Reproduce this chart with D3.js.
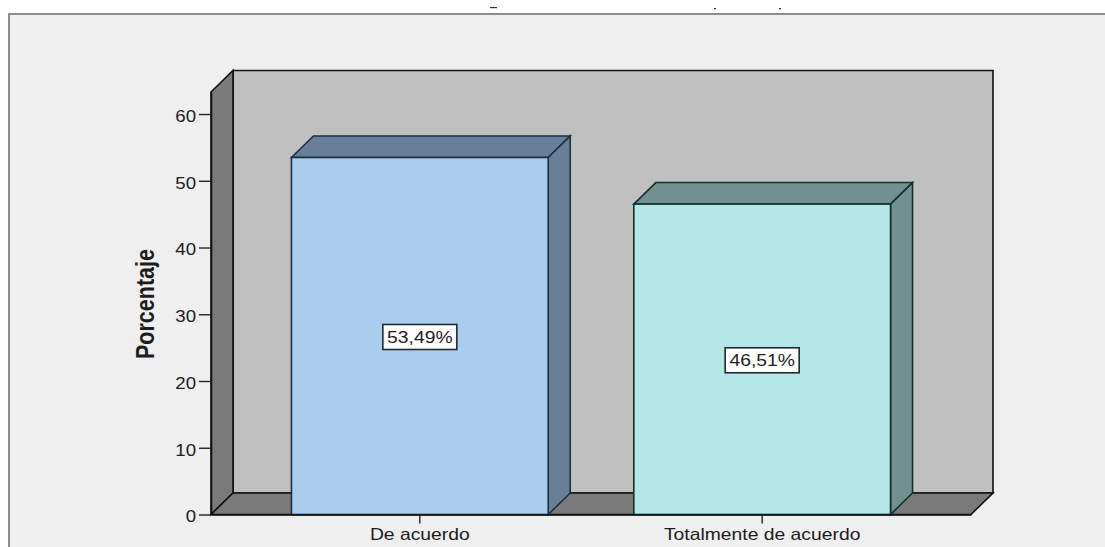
<!DOCTYPE html>
<html>
<head>
<meta charset="utf-8">
<script src="https://cdn.jsdelivr.net/npm/d3@7"></script>
<style>
    html, body { margin: 0; padding: 0; background: #fff; overflow: hidden; }
    svg { display: block; }
    text { font-family: "Liberation Sans", Arial, sans-serif; fill: #1c1c1c; }
</style>
</head>
<body>
<div id="chart"></div>
<script>
    var categories = ["De acuerdo", "Totalmente de acuerdo"];
    var percents = [53.49, 46.51];
    var valueLabels = ["53,49%", "46,51%"];
    var yTicks = [0, 10, 20, 30, 40, 50, 60];
    var yMax = 63.3;
    var fronts = ["#aacdee", "#b3e6e6"];
    var sides = ["#687f97", "#72908f"];
    var edges = ["#1b3048", "#12302f"];

    var width = 1105, height = 547;
    // oblique offset of the 3D box
    var depthX = 22, depthY = 21.5;

    var svg = d3.select("#chart").append("svg")
        .attr("width", width)
        .attr("height", height);

    var x = d3.scaleBand()
        .domain(categories)
        .range([211, 971])
        .paddingInner(0.25)
        .paddingOuter(0.235);

    var y = d3.scaleLinear()
        .domain([0, yMax])
        .range([514.5, 92]);

    function poly(points) {
        return points.map(function(p) { return p.join(","); }).join(" ");
    }

    // stretch a text to the given factor of its natural width
    function widen(selection, factor) {
        selection.each(function() {
            var w = this.getComputedTextLength();
            d3.select(this)
                .attr("textLength", w * factor)
                .attr("lengthAdjust", "spacingAndGlyphs");
        });
    }

    // outer frame, open on the right and at the bottom
    svg.append("rect")
        .attr("x", 9).attr("y", 14)
        .attr("width", width).attr("height", height)
        .attr("fill", "#efefef")
        .attr("stroke", "#6a6a6a")
        .attr("stroke-width", 1.5);

    // remains of the clipped heading
    svg.append("g").selectAll("rect")
        .data([[490, 7, 7], [714, 8, 2], [779, 8, 2]])
        .enter().append("rect")
        .attr("x", function(d) { return d[0]; })
        .attr("y", function(d) { return d[1]; })
        .attr("width", function(d) { return d[2]; })
        .attr("height", 1.2)
        .attr("fill", "#333");

    var left = x.range()[0], right = x.range()[1];
    var floorY = y(0), topY = y(yMax);

    var box = svg.append("g")
        .attr("stroke", "#111")
        .attr("stroke-width", 1.6)
        .attr("stroke-linejoin", "miter");

    // back wall
    box.append("polygon")
        .attr("points", poly([[left + depthX, topY - depthY], [right + depthX, topY - depthY], [right + depthX, floorY - depthY], [left + depthX, floorY - depthY]]))
        .attr("fill", "#c0c0c0");
    // left wall
    box.append("polygon")
        .attr("points", poly([[left, topY], [left + depthX, topY - depthY], [left + depthX, floorY - depthY], [left, floorY]]))
        .attr("fill", "#7a7a7a");
    // floor
    box.append("polygon")
        .attr("points", poly([[left, floorY], [left + depthX, floorY - depthY], [right + depthX, floorY - depthY], [right, floorY]]))
        .attr("fill", "#7a7a7a");

    // bars
    var bars = svg.selectAll(".bar")
        .data(categories)
        .enter().append("g")
        .attr("class", "bar")
        .attr("stroke", function(d, i) { return edges[i]; })
        .attr("stroke-width", 1.6);

    bars.append("polygon")
        .attr("fill", function(d, i) { return sides[i]; })
        .attr("points", function(d, i) {
            var x0 = x(d), x1 = x0 + x.bandwidth(), t = y(percents[i]);
            return poly([[x0, t], [x0 + depthX, t - depthY], [x1 + depthX, t - depthY], [x1, t]]);
        });
    bars.append("polygon")
        .attr("fill", function(d, i) { return sides[i]; })
        .attr("points", function(d, i) {
            var x1 = x(d) + x.bandwidth(), t = y(percents[i]);
            return poly([[x1, t], [x1 + depthX, t - depthY], [x1 + depthX, floorY - depthY], [x1, floorY]]);
        });
    bars.append("rect")
        .attr("fill", function(d, i) { return fronts[i]; })
        .attr("x", function(d) { return x(d); })
        .attr("width", x.bandwidth())
        .attr("y", function(d, i) { return y(percents[i]); })
        .attr("height", function(d, i) { return floorY - y(percents[i]); });

    // value boxes in the middle of each bar
    var tags = svg.selectAll(".tag")
        .data(categories)
        .enter().append("g")
        .attr("class", "tag")
        .attr("transform", function(d, i) {
            return "translate(" + (x(d) + x.bandwidth() / 2) + "," + (y(percents[i] / 2) + 1) + ")";
        });
    tags.append("rect")
        .attr("x", -37).attr("y", -12.5)
        .attr("width", 74).attr("height", 25)
        .attr("fill", "#fff")
        .attr("stroke", "#1c2a33")
        .attr("stroke-width", 1.6);
    tags.append("text")
        .attr("text-anchor", "middle")
        .attr("y", 6)
        .style("font-size", "16.5px")
        .text(function(d, i) { return valueLabels[i]; })
        .call(widen, 1.17);

    // axes
    var yAxis = d3.axisLeft(y)
        .tickValues(yTicks)
        .tickSize(12)
        .tickSizeOuter(0)
        .tickPadding(3);
    var gy = svg.append("g")
        .attr("transform", "translate(" + left + ",0)")
        .call(yAxis);
    gy.select(".domain").attr("stroke", "#111").attr("stroke-width", 1.6);
    gy.selectAll(".tick line").attr("stroke", "#222").attr("stroke-width", 1.4);
    gy.selectAll(".tick text")
        .style("font-size", "16.5px")
        .attr("fill", "#1c1c1c")
        .attr("y", 2)
        .call(widen, 1.13);

    var xAxis = d3.axisBottom(x)
        .tickSize(9)
        .tickSizeOuter(0)
        .tickPadding(5);
    var gx = svg.append("g")
        .attr("transform", "translate(0," + floorY + ")")
        .call(xAxis);
    gx.select(".domain").attr("stroke", "#111").attr("stroke-width", 1.6);
    gx.selectAll(".tick line").attr("stroke", "#222").attr("stroke-width", 1.4);
    gx.selectAll(".tick text")
        .style("font-size", "16.5px")
        .attr("fill", "#1c1c1c")
        .call(widen, 1.17);

    // y axis title
    svg.append("text")
        .attr("transform", "translate(154,304) rotate(-90)")
        .attr("text-anchor", "middle")
        .style("font-size", "25px")
        .style("font-weight", "bold")
        .text("Porcentaje")
        .call(widen, 0.86);
</script>
</body>
</html>
